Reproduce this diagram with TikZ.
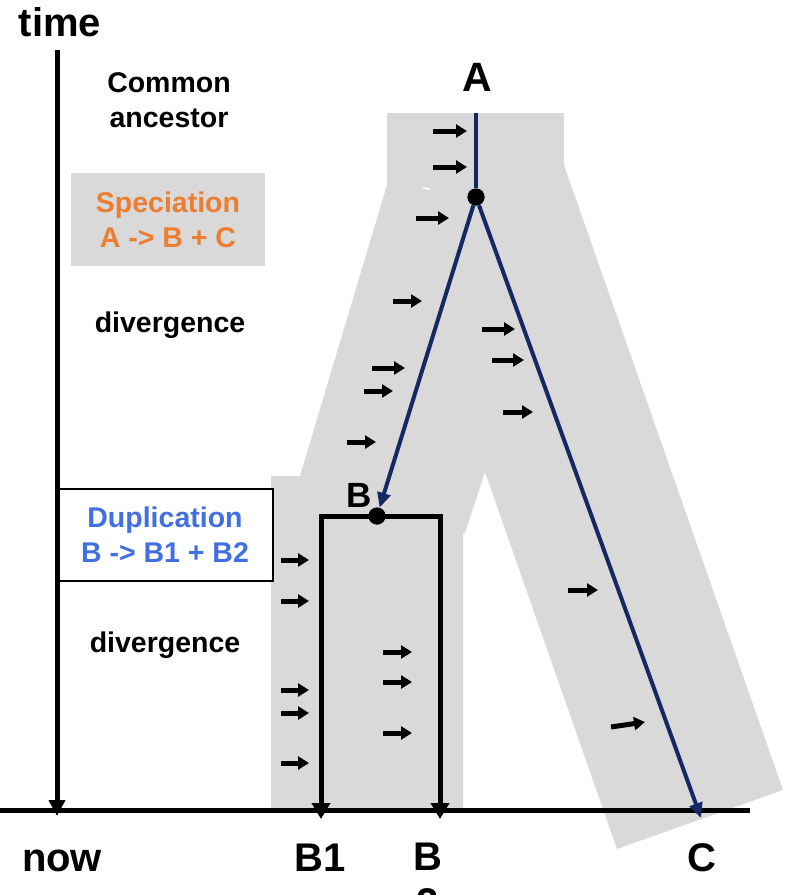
\documentclass[tikz,border=0pt]{standalone}
\usepackage{fontspec}
\setmainfont{Liberation Sans}
\usetikzlibrary{arrows.meta}
\definecolor{band}{RGB}{217,217,217}
\definecolor{navy}{RGB}{20,40,100}
\definecolor{spec}{RGB}{237,125,49}
\definecolor{dup}{RGB}{66,112,226}
\begin{document}
\begin{tikzpicture}[x=1pt,y=-1pt,
  lbl/.style={font=\bfseries\fontsize{28.5}{35}\selectfont, align=center, inner sep=0pt},
  big/.style={font=\bfseries\fontsize{40}{46}\selectfont, inner sep=0pt},
  dot/.style={circle, fill=black, minimum size=17pt, inner sep=0pt},
  lineage/.style={navy, line width=4pt, -{Triangle[length=15pt,width=13pt]}},
  paralog/.style={line width=5pt, {Triangle[length=16pt,width=18pt]}-{Triangle[length=16pt,width=18pt]}},
  axis/.style={line width=5pt},
  mut/.style={line width=5pt, -{Triangle[length=11pt,width=13pt]}},
]
\useasboundingbox (0,0) rectangle (786,895);

% gene tree band: ancestor trunk, two species arms, paralog block
\fill[band] (387,113) -- (564,113) -- (564,165) -- (783,790) -- (617,849)
  -- (485,472) -- (465,533) -- (463,533) -- (463,810) -- (271,810)
  -- (271,476) -- (300,476) -- (387,185) -- cycle;
\draw[white, line width=1.5pt] (423,188) -- (430,189);

% side annotations
\node[fill=band, minimum width=194pt, minimum height=93pt, lbl, text=spec]
  (speciation) at (168,219.5) {Speciation\\A -> B + C};
\node[draw, line width=2pt, fill=white, minimum width=216pt, minimum height=92pt,
  lbl, text=dup] (duplication) at (165,535) {Duplication\\B -> B1 + B2};
\node[lbl, anchor=north] (ancestor) at (169,72) {Common\\ancestor};
\node[lbl, anchor=base] (div1) at (170,332) {divergence};
\node[lbl, anchor=base] (div2) at (165,652) {divergence};

% time axis and present-day line
\coordinate (axtop) at (57,50);
\coordinate (axbot) at (57,816);
\draw[axis, -{Triangle[length=16pt,width=16pt]}] (axtop) -- (axbot);
\coordinate (bl0) at (0,810);
\coordinate (bl1) at (750,810);
\draw[axis] (bl0) -- (bl1);

\node[big, anchor=base] (time) at (60,36) {time};
\node[big, anchor=base] (now) at (62,871) {now};
\node[big, anchor=base] (b1lab) at (320,871) {B1};
\node[big, anchor=north, align=center] (b2lab) at (428,843) {B\\2};
\node[big, anchor=base] (clab) at (702,871) {C};
\node[font=\bfseries\fontsize{41}{46}\selectfont, inner sep=0pt, anchor=base]
  (alab) at (477,91) {A};
\node[font=\bfseries\fontsize{35}{40}\selectfont, inner sep=0pt, anchor=base]
  (blab) at (359,507) {B};

% duplication of B into B1 and B2
\node[dot] (dupB) at (377,516) {};
\coordinate (b1end) at (321,819);
\coordinate (b2end) at (440,819);
\draw[paralog] (b1end) |- (dupB.center) -| (b2end);
\node[dot] (dupB) at (377,516) {};

% species lineages
\node[dot] (specA) at (476,197) {};
\coordinate (atop) at (476,113);
\coordinate (cend) at (701,818);
\draw[navy, line width=4pt] (atop) -- (specA);
\draw[lineage] (specA) -- (dupB);
\draw[lineage] (specA) -- (cend);
\node[dot] at (specA) {};

% substitutions accumulating along the branches
\foreach \xa/\xb/\y in {433/467/131, 433/467/167, 416/449/218, 393/422/301,
    482/515/329, 492/524/360, 503/533/412, 372/405/368, 364/393/391,
    347/376/442, 568/598/590, 281/309/560, 281/309/601, 281/309/690,
    281/309/713, 281/309/763, 383/412/652, 383/412/682, 383/412/733}
  \draw[mut] (\xa,\y) -- (\xb,\y);
\draw[mut] (611,727) -- (645,722);
\end{tikzpicture}
\end{document}
